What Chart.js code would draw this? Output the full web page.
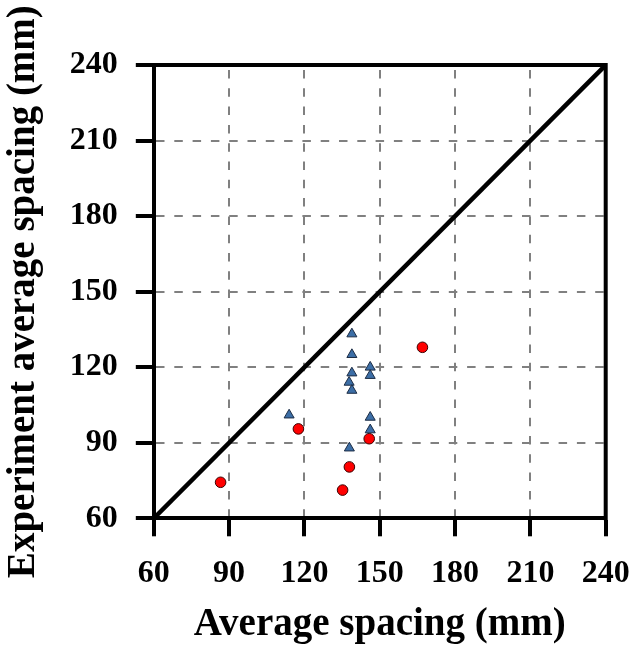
<!DOCTYPE html>
<html>
<head>
<meta charset="utf-8">
<script src="https://cdn.jsdelivr.net/npm/chart.js@4/dist/chart.umd.min.js"></script>
<style>
  body { margin: 0; background: #fff; }
  canvas { display: block; }
</style>
</head>
<body>
<canvas id="grafico" width="633" height="650"></canvas>
<script>
// axis range and ticks (mm)
const axisMin = 60;
const axisMax = 240;
const axisStep = 30;

// triangle series
const triX = [138.9, 138.9, 146.2, 146.2, 138.9, 137.8, 138.9, 113.9, 146.2, 146.2, 137.9];
const triY = [133.2, 125.0, 120.0, 116.7, 117.7, 114.0, 110.8, 101.0, 100.1, 95.1, 87.9];

// circle series
const circX = [117.6, 145.8, 137.9, 135.2, 86.6, 167.0];
const circY = [95.5, 91.6, 80.4, 71.2, 74.3, 127.9];

// 1:1 reference line
const lineX = [60, 240];
const lineY = [60, 240];

function pares(xs, ys) {
  return xs.map(function (x, i) { return { x: x, y: ys[i] }; });
}

const fonte = '"Liberation Serif", "Times New Roman", serif';

// moldura superior e direita
const moldura = {
  id: "moldura",
  afterDatasetsDraw: function (chart) {
    const a = chart.chartArea;
    const ctx = chart.ctx;
    ctx.save();
    ctx.strokeStyle = "#000";
    ctx.lineWidth = 4;
    ctx.beginPath();
    ctx.moveTo(a.left - 2, a.top);
    ctx.lineTo(a.right, a.top);
    ctx.lineTo(a.right, a.bottom + 2);
    ctx.stroke();
    ctx.restore();
  },
};

function escala(titulo, dashOffset) {
  return {
    type: "linear",
    min: axisMin,
    max: axisMax,
    ticks: {
      stepSize: axisStep,
      color: "#000",
      padding: 18,
      maxRotation: 0,
      font: { family: fonte, size: 32, weight: "bold" },
    },
    grid: {
      color: "#808080",
      lineWidth: 2,
      tickLength: 18,
      tickColor: "#000",
      tickWidth: 4,
      tickBorderDash: [],
    },
    border: {
      color: "#000",
      width: 4,
      dash: [8.5, 9.8],
      dashOffset: dashOffset,
    },
    title: {
      display: true,
      text: titulo,
      color: "#000",
      font: { family: fonte, size: 39, weight: "bold" },
    },
  };
}

// sem folga extra para os rótulos das pontas
function semFolga(s) {
  s.paddingLeft = 0;
  s.paddingRight = 0;
  s.paddingTop = 0;
  s.paddingBottom = 0;
}

const escalaX = escala("Average spacing (mm)", 13.3);
escalaX.title.padding = { top: 0, bottom: 2 };
escalaX.afterFit = function (s) { s.height = 131.7; semFolga(s); };

const escalaY = escala("Experiment average spacing (mm)", 0);
escalaY.title.padding = { top: 1, bottom: 0 };
escalaY.afterFit = function (s) { s.width = 153.8; semFolga(s); };

new Chart(document.getElementById("grafico"), {
  type: "scatter",
  data: {
    datasets: [
      {
        label: "triangles",
        data: pares(triX, triY),
        pointStyle: "triangle",
        pointRadius: 5.8,
        backgroundColor: "#3C6EA6",
        borderColor: "#1C2C44",
        borderWidth: 1,
        order: 0,
      },
      {
        label: "circles",
        data: pares(circX, circY),
        pointStyle: "circle",
        pointRadius: 5.3,
        backgroundColor: "#FF0000",
        borderColor: "#3A0000",
        borderWidth: 1,
        order: 1,
      },
      {
        type: "line",
        label: "1:1",
        data: pares(lineX, lineY),
        borderColor: "#000",
        borderWidth: 4.5,
        pointRadius: 0,
        fill: false,
        order: 2,
      },
    ],
  },
  options: {
    responsive: false,
    devicePixelRatio: 1,
    animation: false,
    layout: { padding: { top: 65, right: 27.3, left: 0, bottom: 0 } },
    plugins: {
      legend: { display: false },
      tooltip: { enabled: false },
    },
    scales: {
      x: escalaX,
      y: escalaY,
    },
  },
  plugins: [moldura],
});
</script>
</body>
</html>
